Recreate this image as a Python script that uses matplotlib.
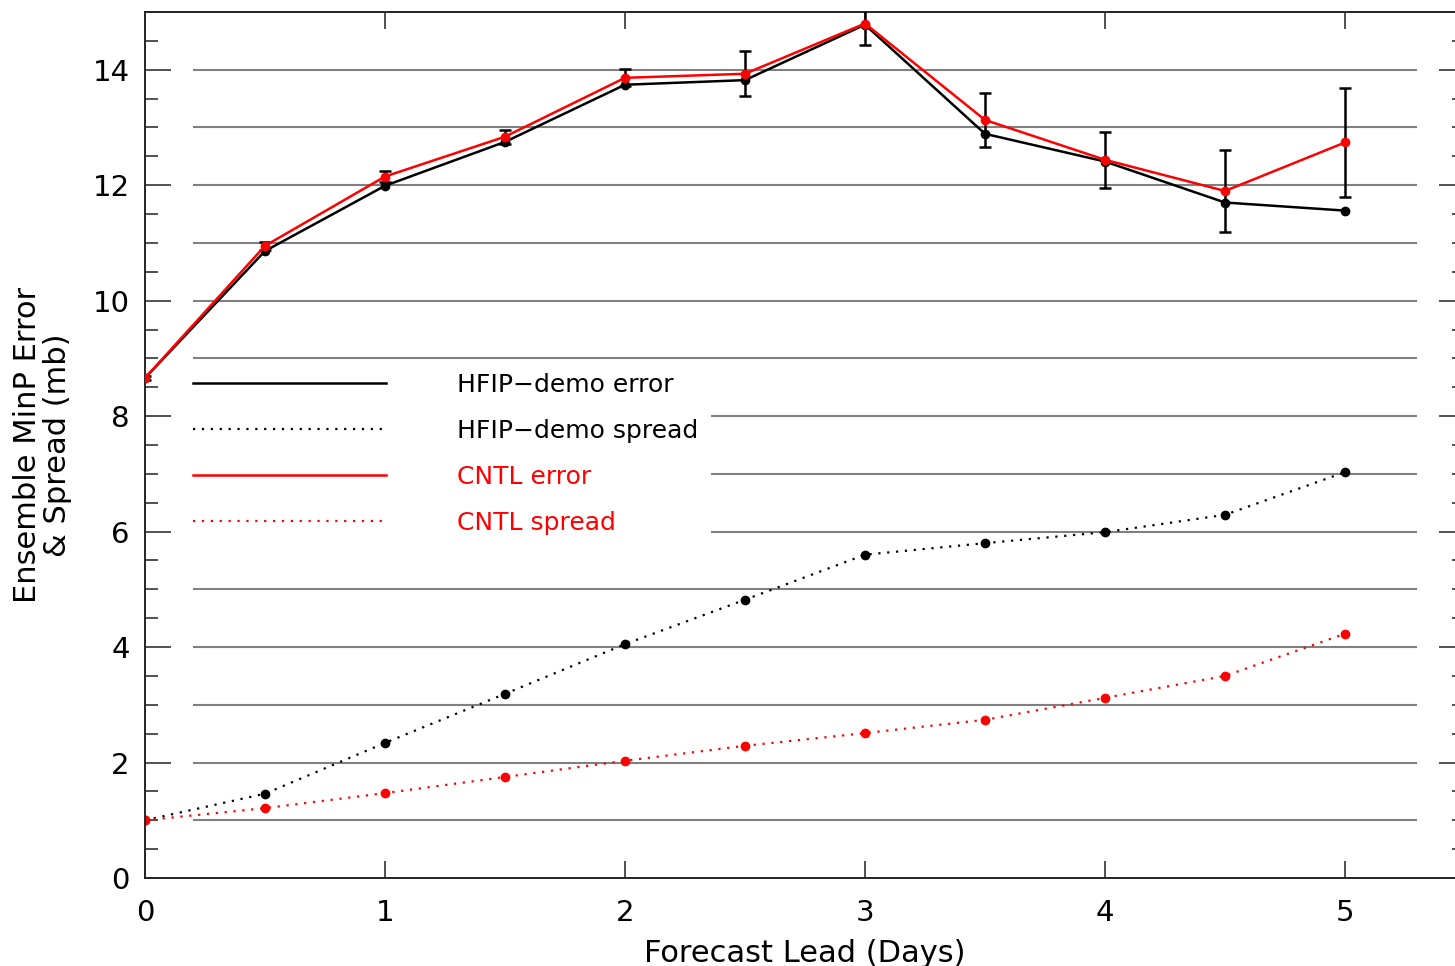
import matplotlib.pyplot as plt
from matplotlib.lines import Line2D
from matplotlib.ticker import MultipleLocator

lead_days = [0, 0.5, 1, 1.5, 2, 2.5, 3, 3.5, 4, 4.5, 5]
hfip_error = [8.66, 10.86, 11.99, 12.75, 13.74, 13.82, 14.78, 12.89, 12.41, 11.70, 11.56]
cntl_error = [8.66, 10.95, 12.15, 12.84, 13.86, 13.93, 14.80, 13.13, 12.44, 11.90, 12.74]
error_bar = [0.03, 0.07, 0.10, 0.12, 0.15, 0.39, 0.37, 0.47, 0.49, 0.71, 0.94]
hfip_spread = [1.00, 1.46, 2.34, 3.19, 4.05, 4.82, 5.60, 5.80, 5.99, 6.29, 7.03]
cntl_spread = [1.00, 1.21, 1.47, 1.75, 2.03, 2.29, 2.51, 2.74, 3.12, 3.50, 4.23]
grid_levels = list(range(1, 15))
labels = ["HFIP\u2212demo error", "HFIP\u2212demo spread", "CNTL error", "CNTL spread"]

plt.rcParams["font.family"] = ["DejaVu Sans"]

fig = plt.figure(figsize=(14.55, 9.66), dpi=100)
ax = fig.add_axes([145 / 1455, 88 / 966, 1320 / 1455, 866 / 966])

ax.hlines(grid_levels, 0.2, 5.3, colors="0.5", linewidth=1.5, zorder=1)

dot = (0, (1, 3))
ax.plot(lead_days, hfip_error, color="black", lw=1.8, marker="o", ms=6, zorder=3)
ax.errorbar(lead_days, cntl_error, yerr=error_bar, fmt="none", ecolor="black",
            elinewidth=1.8, capsize=4.5, capthick=1.8, zorder=3.5)
ax.plot(lead_days, cntl_error, color="red", lw=1.8, marker="o", ms=6, zorder=4)
ax.plot(lead_days, hfip_spread, color="black", lw=1.6, ls=dot, marker="o", ms=6, zorder=2)
ax.plot(lead_days, cntl_spread, color="red", lw=1.6, ls=dot, marker="o", ms=6, zorder=2)

handles = [
    Line2D([], [], color="black", lw=1.8),
    Line2D([], [], color="black", lw=1.6, ls=dot),
    Line2D([], [], color="red", lw=1.8),
    Line2D([], [], color="red", lw=1.6, ls=dot),
]
leg = ax.legend(handles, labels, loc="upper left", bbox_to_anchor=(0.027, 0.598),
                fontsize=18, handlelength=7.7, handletextpad=2.85, labelspacing=0.88,
                borderpad=0.5, borderaxespad=0, frameon=True, fancybox=False,
                facecolor="white", edgecolor="none", framealpha=1,
                labelcolor=["black", "black", "red", "red"])
leg.set_zorder(6)

ax.set_xlim(0, 5.5)
ax.set_ylim(0, 15)
ax.set_xticks([0, 1, 2, 3, 4, 5])
ax.yaxis.set_major_locator(MultipleLocator(2))
ax.yaxis.set_minor_locator(MultipleLocator(0.5))
ax.tick_params(axis="x", which="major", direction="in", length=12, width=1.2,
               top=True, color="0.2", labelsize=21, pad=15)
ax.tick_params(axis="y", which="major", direction="in", length=19, width=1.2,
               right=True, color="0.2", labelsize=21, pad=11)
ax.tick_params(axis="y", which="minor", direction="in", length=9.5, width=1.2,
               right=True, color="0.2")
for s in ax.spines.values():
    s.set_linewidth(1.4)
    s.set_color("0.15")

ax.set_xlabel("Forecast Lead (Days)", fontsize=22, labelpad=9)
ax.set_ylabel("Ensemble MinP Error\n& Spread (mb)", fontsize=22, linespacing=1.05)
ax.yaxis.set_label_coords(-0.055, 0.5)

fig.savefig("out.png", dpi=100)
